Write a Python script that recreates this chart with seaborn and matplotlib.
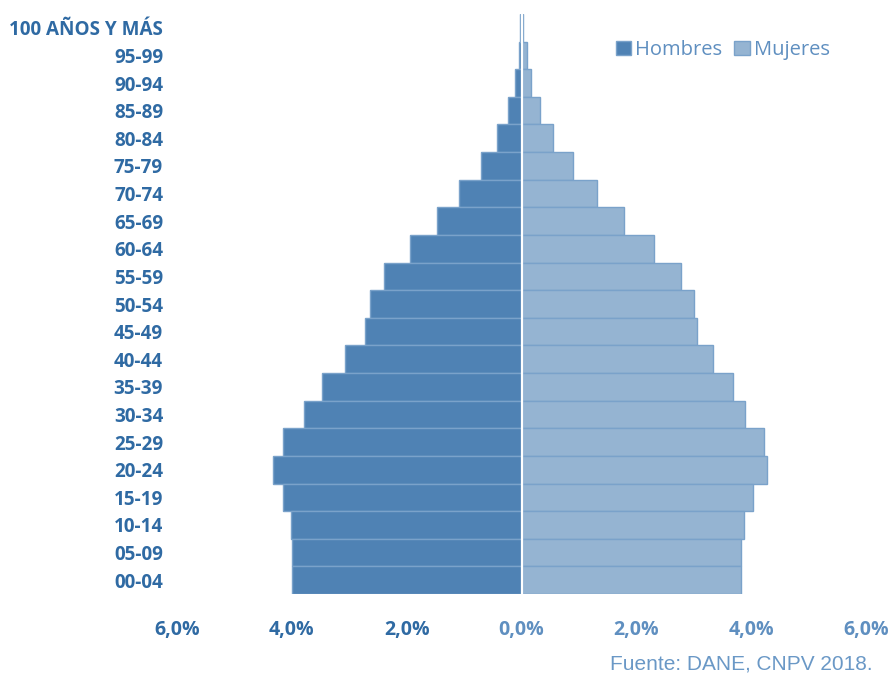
import matplotlib
matplotlib.use("Agg")
import matplotlib.pyplot as plt
import seaborn as sns
import pandas as pd
from matplotlib.patches import Patch

grupos = ["100 AÑOS Y MÁS", "95-99", "90-94", "85-89", "80-84", "75-79", "70-74",
          "65-69", "60-64", "55-59", "50-54", "45-49", "40-44", "35-39", "30-34",
          "25-29", "20-24", "15-19", "10-14", "05-09", "00-04"]
hombres = [0.02, 0.05, 0.12, 0.23, 0.42, 0.70, 1.08, 1.48, 1.95, 2.39, 2.63, 2.72,
           3.07, 3.48, 3.78, 4.16, 4.32, 4.16, 4.02, 3.99, 3.99]
mujeres = [0.03, 0.09, 0.16, 0.33, 0.54, 0.89, 1.31, 1.78, 2.30, 2.77, 3.00, 3.05,
           3.33, 3.68, 3.90, 4.22, 4.27, 4.04, 3.87, 3.82, 3.82]
xticks = [-6, -4, -2, 0, 2, 4, 6]
xticklabels = ["6,0%", "4,0%", "2,0%", "0,0%", "2,0%", "4,0%", "6,0%"]
fuente = "Fuente: DANE, CNPV 2018."

df = pd.concat([
    pd.DataFrame({"grupo": grupos, "sexo": "Hombres", "valor": [-v for v in hombres]}),
    pd.DataFrame({"grupo": grupos, "sexo": "Mujeres", "valor": mujeres}),
])

sns.set_theme(style="white")
plt.rcParams["font.family"] = ["Open Sans", "DejaVu Sans"]

c_h = "#4f82b4"
c_m = "#95b4d2"
edge = "#7aa2ca"

fig = plt.figure(figsize=(8.93, 6.77), dpi=100)
ax = fig.add_axes([177 / 893, 83 / 677, 689 / 893, 580 / 677])

sns.barplot(data=df, x="valor", y="grupo", hue="sexo", order=grupos,
            hue_order=["Hombres", "Mujeres"], palette=[c_h, c_m], dodge=False,
            saturation=1, width=1.0, edgecolor=edge, linewidth=1.0, legend=False, ax=ax)

ax.axvline(0, color="white", lw=1.6, zorder=5)
ax.set_xlim(-6, 6)
ax.set_ylim(20.5, -0.5)
ax.set_xlabel("")
ax.set_ylabel("")
for s in ax.spines.values():
    s.set_visible(False)

ax.set_xticks(xticks)
ax.set_xticklabels(xticklabels, fontsize=14, fontweight="bold")
ax.tick_params(axis="x", length=0, pad=19)
for i, t in enumerate(ax.get_xticklabels()):
    t.set_color("#2f6aa3" if i < 3 else "#5f8fc0")

ax.tick_params(axis="y", length=0, pad=10)
for t in ax.get_yticklabels():
    t.set_fontsize(13.6)
    t.set_fontweight("bold")
    t.set_color("#2f6aa3")

handles = [Patch(facecolor=c_h, edgecolor=edge, label="Hombres"),
           Patch(facecolor=c_m, edgecolor=edge, label="Mujeres")]
leg = fig.legend(handles=handles, loc="center left", bbox_to_anchor=(598 / 893, 1 - 50 / 677),
                 ncol=2, frameon=False, fontsize=14.5, handlelength=0.75, handleheight=0.75,
                 handletextpad=0.2, columnspacing=0.6)
for t in leg.get_texts():
    t.set_color("#5f8fc0")

fig.text(873 / 893, 1 - 664 / 677, fuente, ha="right", va="center", fontsize=15,
         color="#6a98c6", family=["Liberation Sans", "DejaVu Sans"])

fig.savefig("out.png", dpi=100)
